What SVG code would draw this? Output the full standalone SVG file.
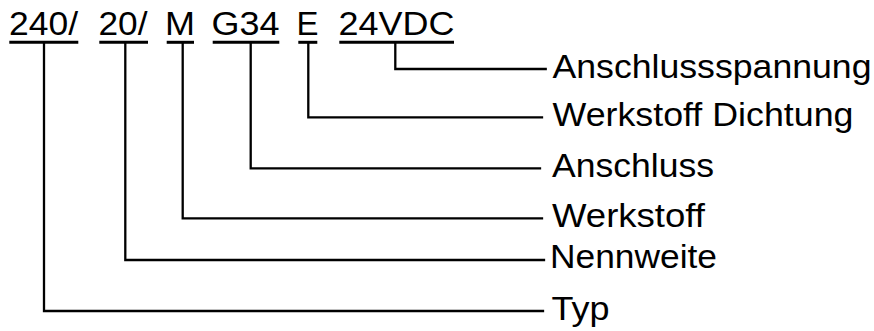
<svg xmlns="http://www.w3.org/2000/svg" width="874" height="331" viewBox="0 0 874 331">
<style>
.t{font-family:"Liberation Sans",Arial,sans-serif;font-size:33px;fill:#000}
.u{stroke:#000;stroke-width:3;fill:none}
.c{stroke:#000;stroke-width:2.3;fill:none;stroke-linecap:square;stroke-linejoin:miter}
</style>
<rect width="874" height="331" fill="#fff"/>
<g id="code">
<g id="n240"><text class="t" x="9" y="35" textLength="69" lengthAdjust="spacingAndGlyphs">240/</text><line class="u" x1="9.3" y1="42.3" x2="78.3" y2="42.3"/></g>
<g id="n20"><text class="t" x="98.5" y="35" textLength="49" lengthAdjust="spacingAndGlyphs">20/</text><line class="u" x1="99.3" y1="42.3" x2="148" y2="42.3"/></g>
<g id="nM"><text class="t" x="165" y="35" textLength="30" lengthAdjust="spacingAndGlyphs">M</text><line class="u" x1="166.7" y1="42.3" x2="194" y2="42.3"/></g>
<g id="nG34"><text class="t" x="211.5" y="35" textLength="68" lengthAdjust="spacingAndGlyphs">G34</text><line class="u" x1="212.7" y1="42.3" x2="279.3" y2="42.3"/></g>
<g id="nE"><text class="t" x="296.5" y="35" textLength="22" lengthAdjust="spacingAndGlyphs">E</text><line class="u" x1="298.3" y1="42.3" x2="317.3" y2="42.3"/></g>
<g id="n24VDC"><text class="t" x="338.5" y="35" textLength="116" lengthAdjust="spacingAndGlyphs">24VDC</text><line class="u" x1="339.3" y1="42.3" x2="454" y2="42.3"/></g>
</g>
<g id="connectors">
<polyline class="c" points="44,43 44,311 543,311"/>
<polyline class="c" points="125.3,43 125.3,260 544,260"/>
<polyline class="c" points="182.7,43 182.7,218.3 542,218.3"/>
<polyline class="c" points="250.7,43 250.7,168.3 540,168.3"/>
<polyline class="c" points="308.3,43 308.3,117.3 542,117.3"/>
<polyline class="c" points="395.3,43 395.3,69 545.7,69"/>
</g>
<g id="lAnschlussspannung"><text class="t" x="552.5" y="77.5" textLength="319" lengthAdjust="spacingAndGlyphs">Anschlussspannung</text></g>
<g id="lWerkstoffDichtung"><text class="t" x="552.5" y="125.8" textLength="301" lengthAdjust="spacingAndGlyphs">Werkstoff Dichtung</text></g>
<g id="lAnschluss"><text class="t" x="552" y="177" textLength="162" lengthAdjust="spacingAndGlyphs">Anschluss</text></g>
<g id="lWerkstoff"><text class="t" x="552" y="226.8" textLength="153" lengthAdjust="spacingAndGlyphs">Werkstoff</text></g>
<g id="lNennweite"><text class="t" x="550" y="268.3" textLength="167" lengthAdjust="spacingAndGlyphs">Nennweite</text></g>
<g id="lTyp"><text class="t" x="551.5" y="319.5" textLength="58" lengthAdjust="spacingAndGlyphs">Typ</text></g>
</svg>
